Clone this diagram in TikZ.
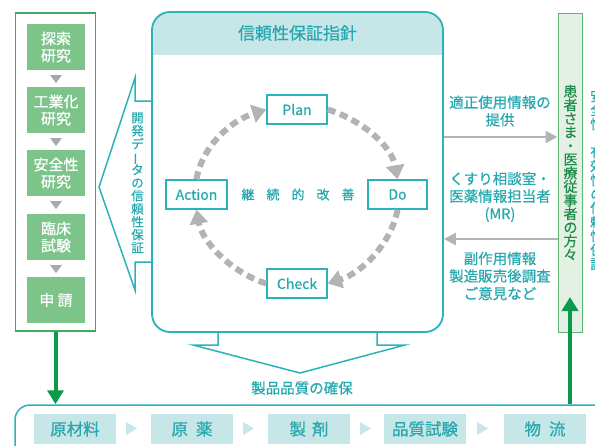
\documentclass[tikz,border=0pt]{standalone}
\usepackage{fontspec}
\setmainfont{Noto Sans CJK JP}[FakeBold=0.7]
\usepackage{graphicx}
\usetikzlibrary{arrows.meta}
\definecolor{teal1}{HTML}{2AB3B8}
\definecolor{tealtext}{HTML}{26A8AE}
\definecolor{tealfill}{HTML}{C7E6E7}
\definecolor{gfill}{HTML}{7DC48B}
\definecolor{gline}{HTML}{3FAA5E}
\definecolor{gline2}{HTML}{5BB673}
\definecolor{gdark}{HTML}{0B9A4A}
\definecolor{gtext}{HTML}{1E8C4A}
\definecolor{lgfill}{HTML}{E2F1E3}
\definecolor{greyA}{HTML}{B3B3B3}
\definecolor{greyT}{HTML}{A8A8A8}
\newcommand{\vbar}{\makebox[1em]{\smash{\rotatebox[origin=c]{90}{ー}}}}
\begin{document}
\begin{tikzpicture}[x=1pt,y=-1pt,
  devstep/.style={fill=gfill, text=white, minimum width=58pt, minimum height=46pt, inner sep=0pt, align=center, font=\fontsize{15}{17}\selectfont},
  pdca/.style={draw=teal1, line width=1.5pt, fill=white, minimum height=29pt, inner sep=0pt, text=tealtext, font=\fontsize{14}{16}\selectfont},
  flowstep/.style={fill=tealfill, minimum width=82pt, minimum height=30pt, inner sep=0pt, text=tealtext, font=\fontsize{16.5}{18}\selectfont},
  tealtxt/.style={text=tealtext, align=center, inner sep=0pt, font=\fontsize{14.5}{17.5}\selectfont},
  vtxt/.style={align=center, inner sep=0pt},
  cyc/.style={draw=greyA, line width=6pt, dash pattern=on 8pt off 5pt, -{Triangle[length=14pt,width=18pt]}},
  garrow/.style={draw=gdark, line width=4pt, -{Triangle[length=14pt,width=16pt]}},
  grarrow/.style={draw=greyA, line width=2.5pt, -{Triangle[length=12pt,width=12pt]}},
  downtri/.style={fill=greyT},
  righttri/.style={fill=tealfill}
]
\useasboundingbox (0,0) rectangle (595,445);
\clip (0,0) rectangle (595,445);

% ---- left development column
\node (devbox) [draw=gline, line width=1.2pt, minimum width=80pt, minimum height=318pt, inner sep=0pt] at (55.5,172) {};
\node (s1) [devstep] at (56,47) {探索\\研究};
\node (s2) [devstep] at (56,110) {工業化\\研究};
\node (s3) [devstep] at (56,173) {安全性\\研究};
\node (s4) [devstep] at (56,237) {臨床\\試験};
\node (s5) [devstep] at (56,300) {申 請};
\foreach \ty in {75,138,201,265}{
  \fill[downtri] (50,\ty) -- (62,\ty) -- (56,\ty+8) -- cycle;
}

% ---- central guideline box
\begin{scope}
  \clip[rounded corners=18pt] (152,12) rectangle (443,332);
  \fill[tealfill] (152,12) rectangle (443,55);
\end{scope}
\node (guide) [draw=teal1, line width=1.8pt, rounded corners=18pt, minimum width=291pt, minimum height=320pt, inner sep=0pt] at (297.5,172) {};
\node (head) [text=tealtext, inner sep=0pt, font=\fontsize{17}{19}\selectfont] at (297.5,33) {信頼性保証指針};

% left-pointing big arrow
\draw[teal1, line width=1.5pt, line join=miter] (152,101) -- (135,101) -- (135,78) -- (99,187) -- (135,290) -- (135,262) -- (152,262);
\node (devdata) [vtxt, text=tealtext, font=\fontsize{12.5}{13}\selectfont] at (137.5,183) {開\\発\\デ\\\vbar\\タ\\の\\信\\頼\\性\\保\\証};

% down-pointing notch arrow
\draw[teal1, line width=1.5pt, line join=miter] (218,332) -- (218,345) -- (193,345) -- (300,373) -- (405,345) -- (377,345) -- (377,332);
\node (quality) [tealtxt] at (302,388) {製品品質の確保};

% PDCA
\node (plan) [pdca, minimum width=60pt] at (297,109.5) {Plan};
\node (do) [pdca, minimum width=59pt] at (397.5,194.5) {Do};
\node (check) [pdca, minimum width=60pt] at (297,283.5) {Check};
\node (action) [pdca, minimum width=61pt] at (196.5,194.5) {Action};
\node (kaizen) [text=tealtext, inner sep=0pt, font=\fontsize{13}{15}\selectfont] at (298,194.5) {継\hspace{12pt}続\hspace{12pt}的\hspace{12pt}改\hspace{12pt}善};
\draw[cyc] (action.north) .. controls (202,147) and (230,121) .. (plan.west);
\draw[cyc] (plan.east) .. controls (364,121) and (392,147) .. (do.north);
\draw[cyc] (do.south) .. controls (392,241) and (364,272) .. (check.east);
\draw[cyc] (check.west) .. controls (230,272) and (202,241) .. (action.south);

% ---- right patients column
\node (pat) [draw=gline2, fill=lgfill, line width=1pt, minimum width=24pt, minimum height=319pt, inner sep=0pt] at (570,172.5) {};
\node (patlabel) [vtxt, text=gtext, font=\fontsize{14}{13.6}\selectfont] at (570.5,172.5) {患\\者\\さ\\ま\\・\\医\\療\\従\\事\\者\\の\\方\\々};
\node (edge) [vtxt, text=tealtext, font=\fontsize{13.5}{14}\selectfont] at (597,180) {安\\全\\性\\・\\有\\効\\性\\の\\信\\頼\\性\\保\\証};

% information arrows
\coordinate (r1) at (0,137);
\coordinate (r2) at (0,239);
\draw[grarrow] (guide.east |- r1) -- (pat.west |- r1);
\draw[grarrow] (pat.west |- r2) -- (guide.east |- r2);
\node (t1) [tealtxt] at (500,111) {適正使用情報の\\提供};
\node (t2) [tealtxt] at (500,197) {くすり相談室・\\医薬情報担当者\\(MR)};
\node (t3) [tealtxt] at (500,276) {副作用情報\\製造販売後調査\\ご意見など};

% ---- bottom flow
\node (flow) [draw=teal1, line width=1.5pt, rounded corners=15pt, minimum width=640pt, minimum height=80pt, inner sep=0pt] at (335,445) {};
\node (f1) [flowstep] at (75,429) {原材料};
\node (f2) [flowstep] at (192,429) {原\hspace{8pt}薬};
\node (f3) [flowstep] at (309,429) {製\hspace{6pt}剤};
\node (f4) [flowstep] at (425,429) {品質試験};
\node (f5) [flowstep] at (545,429) {物\hspace{8pt}流};
\foreach \tx in {126,243,360,477}{
  \fill[righttri] (\tx,422) -- (\tx+11,428.5) -- (\tx,435) -- cycle;
}

% green arrows
\coordinate (pattip) at (570,297);
\draw[garrow] (devbox.south) -- (devbox.south |- flow.north);
\draw[garrow] (pat.south |- flow.north) -- (pattip);
\end{tikzpicture}
\end{document}
